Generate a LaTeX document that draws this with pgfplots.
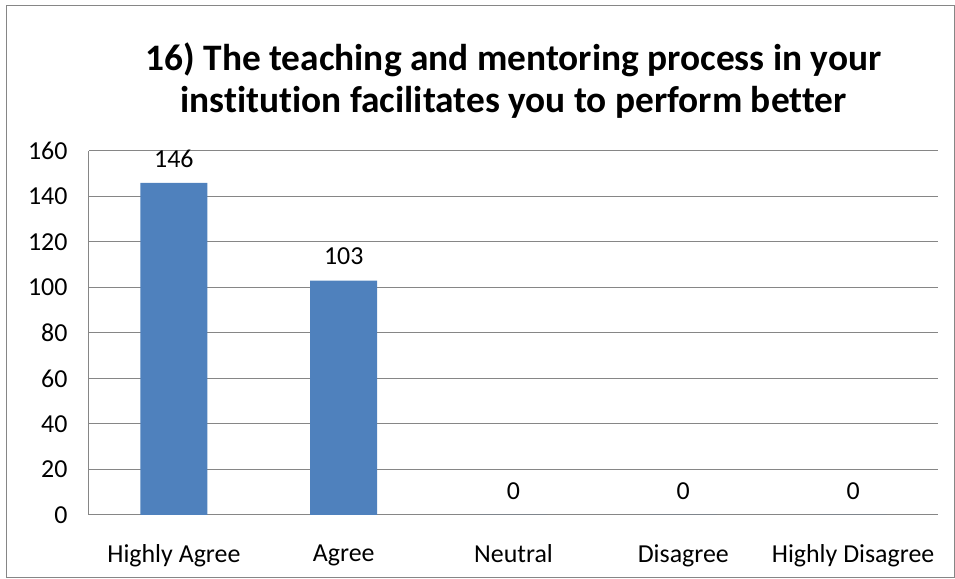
\documentclass[border=0pt]{standalone}
\usepackage{fontspec}
\setmainfont{Carlito}[Ligatures={NoCommon}]
\usepackage{pgfplots}
\pgfplotsset{compat=1.18}
\definecolor{barblue}{HTML}{4F81BD}
\definecolor{gridgray}{HTML}{868686}
\begin{document}
\begin{tikzpicture}[x=1bp,y=1bp]
\path[use as bounding box] (-89,-64) rectangle (866,515);
\draw[gridgray,line width=1bp] (-82,-63) rectangle (865,509);
\begin{axis}[
  at={(0,0)}, anchor=south west,
  scale only axis,
  width=849bp, height=364bp,
  ybar, bar width=67bp,
  xmin=-0.5, xmax=4.5,
  ymin=0, ymax=160,
  xtick=data,
  xticklabels={Highly Agree,Agree,Neutral,Disagree,Highly Disagree},
  ytick={0,20,...,160},
  major tick length=0pt,
  axis x line*=bottom,
  axis y line*=left,
  axis line style={gridgray,line width=1bp},
  ymajorgrids,
  grid style={gridgray,line width=1bp},
  /pgf/number format/assume math mode=true,
  tick label style={font=\fontsize{26}{30}\selectfont,black},
  yticklabel style={xshift=-18bp},
  xticklabel style={yshift=-26bp},
  nodes near coords,
  every node near coord/.append style={font=\fontsize{26}{30}\selectfont,black,yshift=12bp},
]
\addplot[fill=barblue,draw=none] coordinates {(0,146) (1,103) (2,0) (3,0) (4,0)};
\end{axis}
\node[font=\fontsize{37.5}{43}\selectfont\bfseries,align=center,anchor=base] at (424.5,402)
  {16) The teaching and mentoring process in your\\institution facilitates you to perform better};
\end{tikzpicture}
\end{document}
